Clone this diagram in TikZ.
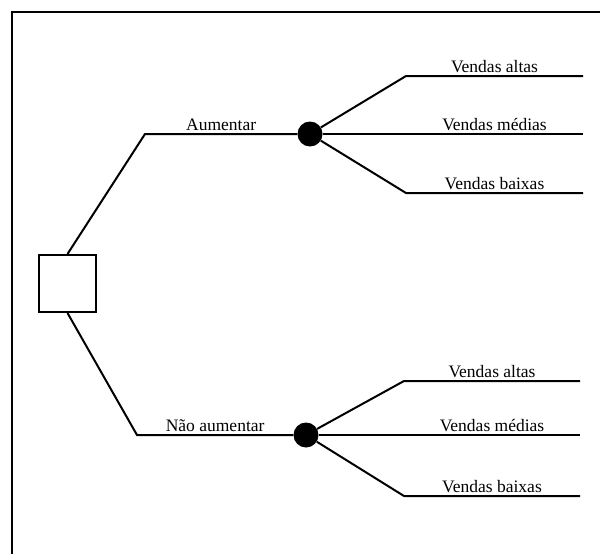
\documentclass[tikz,border=0pt]{standalone}
\usepackage{fontspec}
\setmainfont{Liberation Serif}
\usetikzlibrary{positioning, calc}
\tikzset{
  decnode/.style={draw, rectangle, line width=2pt, minimum size=57pt, inner sep=0pt},
  chancenode/.style={circle, fill=black, minimum size=25pt, inner sep=0pt},
  branch/.style={line width=2pt},
  lbl/.style={above, inner sep=2.5pt, text depth=0pt, font=\fontsize{17.5}{20}\selectfont}
}

\begin{document}
\begin{tikzpicture}[x=1pt, y=-1pt]
  \useasboundingbox (0,0) rectangle (600,554);
  % moldura (so os lados de cima e da esquerda aparecem)
  \draw[line width=2.5pt] (12,554) -- (12,12) -- (600,12);

  \node[decnode] (dec) at (67.5,283.5) {};
  \node[chancenode] (up) at (310,134) {};
  \node[chancenode] (dn) at (306,435) {};
  \coordinate (upk) at (145,134);
  \coordinate (dnk) at (137,435);

  \draw[branch] (dec.north) -- (upk) -- node[lbl] {Aumentar} (up);
  \draw[branch] (dec.south) -- (dnk) -- node[lbl] {Não aumentar} (dn);

  % resultados de cada no de acaso
  \foreach \n/\c/\kx/\ex/\y/\t in {
      a1/up/406/583/76/Vendas altas,
      a2/up/406/583/134/Vendas médias,
      a3/up/406/583/193/Vendas baixas,
      b1/dn/404/580/381/Vendas altas,
      b2/dn/404/580/435/Vendas médias,
      b3/dn/404/580/496/Vendas baixas} {
    \coordinate (k\n) at (\kx,\y);
    \coordinate (e\n) at (\ex,\y);
    \draw[branch] (\c) -- (k\n) -- node[lbl] {\t} (e\n);
  }
\end{tikzpicture}
\end{document}
